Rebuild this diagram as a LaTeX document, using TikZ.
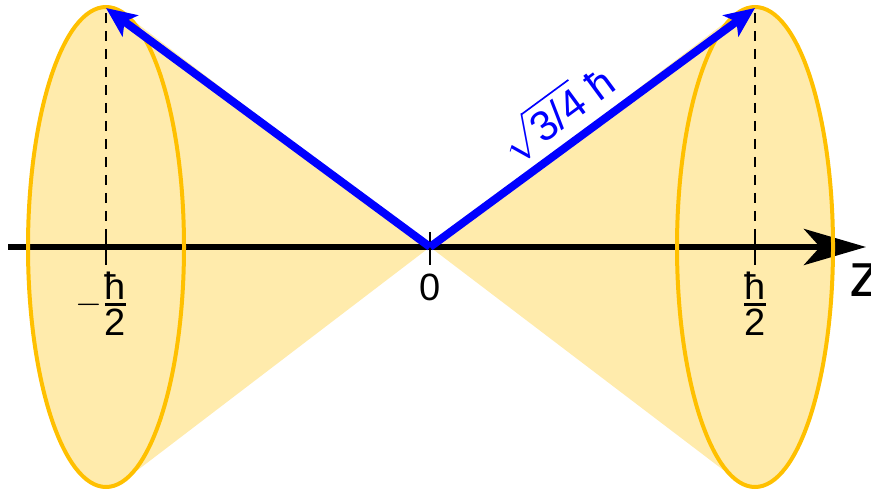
\documentclass[tikz,border=0pt]{standalone}
\usepackage{amsmath}
\usepackage{fontspec}
\setmainfont{Liberation Sans}
\usetikzlibrary{arrows.meta}
\definecolor{conefill}{RGB}{255,235,172}
\definecolor{conerim}{RGB}{255,192,0}
\newcommand{\halfhbar}{\genfrac{}{}{1.4pt}{1}{\mbox{ħ}}{\mbox{2}}}

\begin{document}
\begin{tikzpicture}[
    x=0.5pt, y=-0.5pt,
    cone/.style={fill=conefill, draw=none},
    rim/.style={draw=conerim, line width=2pt},
    spin/.style={-{Stealth[length=15pt, width=13pt, inset=3.5pt]}, draw=blue, line width=4pt},
    zaxis/.style={-{Stealth[length=31pt, width=18pt, inset=8pt]}, line width=3pt},
    guide/.style={dashed, dash pattern=on 5pt off 4pt, line width=1.3pt},
    tick/.style={line width=1.2pt},
    lbl/.style={font=\fontsize{19}{22}\selectfont, inner sep=1pt}
]
    \useasboundingbox (0,0) rectangle (871,490);

    \coordinate (O) at (430,247);
    \coordinate (Lc) at (106,247);
    \coordinate (Rc) at (755,247);
    \coordinate (Ltop) at (106,8);
    \coordinate (Rtop) at (755,8);
    \coordinate (zstart) at (8,247);
    \coordinate (zend) at (866,247);

    \fill[cone] (O) -- (124.8,14.1) -- (124.8,479.9) -- cycle;
    \fill[cone] (O) -- (736.3,14.1) -- (736.3,479.9) -- cycle;
    \fill[cone] (Lc) ellipse [x radius=78, y radius=240];
    \fill[cone] (Rc) ellipse [x radius=78, y radius=240];

    \draw[zaxis] (zstart) -- (zend);

    \draw[rim] (Lc) ellipse [x radius=78, y radius=240];
    \draw[rim] (Rc) ellipse [x radius=78, y radius=240];

    \draw[guide] (106,13) -- (106,232);
    \draw[guide] (755,13) -- (755,232);
    \draw[tick] (106,232) -- (106,265);
    \draw[tick] (430,232) -- (430,265);
    \draw[tick] (755,232) -- (755,265);

    \draw[spin] (O) -- (Ltop);
    \draw[spin] (O) -- node[lbl, font=\fontsize{21}{24}\selectfont, text=blue, sloped, above=3pt, pos=0.45] (len) {$\sqrt{\text{3/4}}$ ħ} (Rtop);

    \node[lbl, anchor=north] (zero) at (430,272) {0};
    \node[lbl, anchor=north] (mhalf) at (102,270) {$-\halfhbar$};
    \node[lbl, anchor=north] (phalf) at (755,270) {$\halfhbar$};
    \node[font=\fontsize{31}{34}\selectfont, anchor=base west, inner sep=0pt] (zlbl) at (849,297) {z};
\end{tikzpicture}
\end{document}
